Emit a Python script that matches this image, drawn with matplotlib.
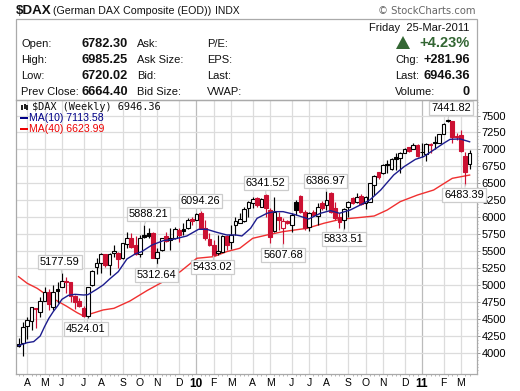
import matplotlib
matplotlib.use('Agg')
import matplotlib.pyplot as plt
from matplotlib.patches import Rectangle, Polygon

plt.rcParams['font.family'] = ['Liberation Sans', 'DejaVu Sans']

opens = [4135, 4149, 4404, 4483, 4674, 4615, 4777, 4909, 4689, 4943, 4983, 5071, 5051, 4850, 4772,
         4674, 4551, 5007, 5277, 5326, 5463, 5301, 5483, 5483, 5399, 5606, 5704, 5596, 5459, 5743,
         5767, 5767, 5400, 5522, 5733, 5670, 5694, 5817, 5826, 5841, 5973, 5964, 6071, 5841, 5679,
         5596, 5473, 5498, 5733, 5645, 5890, 5915, 5950, 6135, 6219, 6282, 6160, 6331, 6111, 5807,
         6013, 5841, 5944, 5890, 6233, 6310, 6086, 5866, 6086, 6027, 6209, 6184, 6356, 6135, 6013,
         5964, 6160, 6282, 6223, 6316, 6208, 6233, 6478, 6664, 6650, 6790, 6708, 6895, 6870, 6954,
         7032, 7003, 7066, 6968, 6929, 7081, 7105, 7101, 7228, 7429, 7419, 7199, 7213, 6905, 6782.30]
highs = [4223, 4468, 4532, 4689, 4674, 4836, 4983, 4943, 5007, 5056, 5177.59, 5130, 5056, 4860, 4811,
         4698, 4973, 5228, 5399, 5483, 5463, 5473, 5595, 5497, 5630, 5792, 5767, 5733, 5743, 5888.21,
         5850, 5792, 5547, 5704, 5792, 5841, 5856, 5841, 5924, 5988, 6013, 6071, 6094.26, 5964, 5768,
         5670, 5743, 5743, 5743, 5890, 6013, 6062, 6160, 6248, 6307, 6307, 6282, 6341.52, 6135, 6297,
         6086, 5988, 5964, 6062, 6258, 6325, 6111, 6086, 6111, 6209, 6248, 6386.97, 6370, 6233, 6062,
         6135, 6248, 6297, 6356, 6346, 6316, 6512, 6625, 6674, 6782, 6846, 6870, 6944, 6968, 7027,
         7042, 7091, 7076, 7091, 7091, 7091, 7199, 7228, 7385, 7441.82, 7424, 7248, 7287, 6958, 6985.25]
lows = [4090, 3963, 4208, 4345, 4370, 4532, 4767, 4640, 4640, 4747, 4983, 4885, 4762, 4649, 4679,
        4532, 4524.01, 4992, 5169, 5188, 5277, 5154, 5424, 5252, 5385, 5547, 5547, 5449, 5424, 5704,
        5704, 5400, 5312.64, 5508, 5635, 5523, 5679, 5645, 5743, 5826, 5890, 5964, 5841, 5670, 5581,
        5433.02, 5445, 5498, 5522, 5530, 5743, 5915, 5940, 6000, 6135, 6160, 6160, 6013, 5630, 5792,
        5817, 5607.68, 5905, 5792, 6037, 6062, 5817, 5807, 6022, 5890, 6111, 6111, 6062, 5964, 5840,
        5833.51, 6013, 6199, 6209, 6184, 6120, 6233, 6331, 6561, 6640, 6650, 6699, 6699, 6659, 6954,
        6968, 7003, 6895, 6895, 6836, 6944, 7003, 7101, 7228, 7409, 7101, 7140, 6968, 6483.39, 6720.02]
closes = [4115, 4385, 4492, 4679, 4649, 4767, 4909, 4728, 4909, 4924, 5071, 5056, 4850, 4762, 4698,
          4551, 4973, 5218, 5326, 5458, 5301, 5463, 5512, 5385, 5620, 5704, 5571, 5459, 5704, 5718,
          5733, 5400, 5488, 5694, 5655, 5704, 5826, 5743, 5807, 5964, 5954, 6047, 5841, 5694, 5596,
          5445, 5508, 5733, 5596, 5743, 5949, 5973, 6121, 6233, 6268, 6184, 6268, 6135, 5719, 6076,
          5964, 5949, 5924, 6037, 6111, 6086, 5841, 6071, 6037, 6160, 6135, 6258, 6086, 5988, 5939,
          6125, 6223, 6209, 6297, 6199, 6297, 6512, 6615, 6591, 6772, 6775, 6855, 6855, 6954, 7003,
          6983, 7066, 6909, 6958, 7076, 7071, 7097, 7228, 7375, 7419, 7189, 7179, 6978, 6664.40, 6946.36]

ma10_weeks = [0, 2, 3.5, 5, 6, 7, 8, 9, 10, 11.5, 13, 15, 16, 18, 19.5, 21, 23, 25, 26.9, 28.4, 30.8,
              33.4, 35.7, 38.8, 41.5, 43.4, 45.7, 48, 50, 51.5, 53.5, 55, 57.3, 59, 61, 63.5, 66.9,
              69.6, 71.9, 74, 76.5, 78.8, 81, 83.5, 86.5, 88.9, 91.5, 93.4, 95.7, 98, 99.5, 101.8, 104]
ma10 = [4115, 4159, 4174, 4257, 4394, 4517, 4615, 4698, 4796, 4855, 4870, 4860, 4865, 4943, 5007, 5095,
        5203, 5390, 5464, 5498, 5596, 5660, 5680, 5728, 5826, 5826, 5782, 5743, 5743, 5728, 5841, 5988,
        6062, 6086, 6086, 6047, 5978, 6062, 6101, 6062, 6111, 6184, 6258, 6404, 6625, 6748, 6855, 6895,
        6993, 7091, 7150, 7155, 7113.58]
ma40_weeks = [0, 2, 4.3, 6.5, 8.8, 11, 13.5, 15, 17.5, 19.5, 22, 25.7, 29.6, 33.4, 37.3, 41.1, 45, 48,
              51, 54, 57.3, 61, 66.5, 70.4, 74.2, 79, 82, 85, 88, 92, 95.7, 100, 104]
ma40 = [5130, 5032, 4958, 4860, 4777, 4698, 4600, 4551, 4600, 4640, 4664, 4772, 4924, 5057, 5204, 5400,
        5424, 5498, 5547, 5694, 5743, 5792, 5841, 5915, 5973, 6002, 6022, 6110, 6233, 6331, 6404, 6576,
        6623.99]

month_weeks = [2, 6, 10, 15, 19, 24, 28, 32, 37, 41, 45, 49, 54, 58, 63, 67, 71, 76, 80, 84, 89, 93, 98, 102]
month_labels = ['A', 'M', 'J', 'J', 'A', 'S', 'O', 'N', 'D', '10', 'F', 'M', 'A', 'M', 'J', 'J', 'A', 'S',
                'O', 'N', 'D', '11', 'F', 'M']
price_ticks = list(range(4000, 7501, 250))

# week, value, label offset in pixels
callouts = [(10, 5177.59, -2, 11), (16, 4524.01, -2, -11), (29, 5888.21, 4, 11), (32, 5312.64, -1, -11),
            (42, 6094.26, 0, 10), (45, 5433.02, -1, -11), (57, 6341.52, 0, 11), (61, 5607.68, 0, -11),
            (71, 6386.97, -1, 10), (75, 5833.51, 0, -10), (99, 7441.82, 3, 11), (103, 6483.39, -1, -10)]

W, H = 520, 391
fig = plt.figure(figsize=(W / 100, H / 100), dpi=100, facecolor='white')
ax = fig.add_axes([16 / W, 1 - 374 / H, (477 - 16) / W, (374 - 100) / H])
ax.set_xlim(-0.58, 105.7)
ax.set_ylim(3698, 7728)

RED = '#cc1133'
for i in range(len(opens)):
    prev = closes[i - 1] if i > 0 else closes[i]
    col = RED if closes[i] < prev else 'black'
    ax.vlines(i, lows[i], highs[i], color=col, lw=0.85, zorder=3)
    bottom = min(opens[i], closes[i])
    height = abs(closes[i] - opens[i])
    fill = col if closes[i] < opens[i] else 'white'
    ax.bar(i, height, 0.85, bottom=bottom, facecolor=fill, edgecolor=col, linewidth=0.8, zorder=4)

ax.plot(ma10_weeks, ma10, color='#1c1c8e', lw=1.0, zorder=5)
ax.plot(ma40_weeks, ma40, color='#f03030', lw=1.0, zorder=2)

ax.set_xticks(month_weeks)
ax.set_xticklabels(month_labels, fontsize=7.5)
for lab, txt in zip(ax.get_xticklabels(), month_labels):
    if txt in ('10', '11'):
        lab.set_fontweight('bold')
        lab.set_fontsize(8.5)
ax.set_xticks(range(0, 105), minor=True)
ax.yaxis.tick_right()
ax.set_yticks(price_ticks)
ax.set_yticklabels([str(p) for p in price_ticks], fontsize=8)
ax.set_yticks(range(3750, 7750, 50), minor=True)
ax.tick_params(axis='x', which='major', length=0, pad=3)
ax.tick_params(axis='x', which='minor', length=1.5, width=0.5, color='#999999', direction='out')
ax.tick_params(axis='y', which='major', length=2, width=0.6, color='#888888', pad=1.5)
ax.tick_params(axis='y', which='minor', length=1, width=0.5, color='#999999')
ax.grid(True, which='major', color='#dcdcdc', lw=0.9, zorder=0)
ax.set_axisbelow(True)
for g, txt in zip(ax.get_xgridlines(), month_labels):
    if txt in ('10', '11'):
        g.set_color('#bbbbbb')
for s in ax.spines.values():
    s.set_color('#aaaaaa')
    s.set_linewidth(0.9)

for week, val, dx, dy in callouts:
    ax.annotate(f'{val:.2f}', xy=(week, val), xytext=(dx, dy), textcoords='offset pixels',
                ha='center', va='center', fontsize=7.9, zorder=8,
                bbox=dict(boxstyle='square,pad=0.18', fc='white', ec='#cccccc', lw=0.9),
                arrowprops=dict(arrowstyle='-', color='#cccccc', lw=0.8, shrinkA=0, shrinkB=0))


def put(x, y, s, **kw):
    kw.setdefault('va', 'center')
    kw.setdefault('fontsize', 8)
    kw.setdefault('color', '#111111')
    fig.text(x / W, 1 - y / H, s, **kw)


# header box
fig.add_artist(Rectangle((16 / W, 1 - 100 / H), (477 - 16) / W, 81 / H, transform=fig.transFigure,
                         fill=False, ec='#aaaaaa', lw=0.9))
put(16, 11, '$DAX', fontweight='bold', fontsize=9.6)
put(53, 11, '(German DAX Composite (EOD))', fontsize=7.7)
put(215, 11, 'INDX', fontsize=7.4)
put(476, 11, '\u00a9 StockCharts.com', ha='right', fontsize=7.2, color='#666666', family='DejaVu Sans')

rows = [44, 60, 76, 92]
for y, a, v, b, c in zip(rows, ['Open:', 'High:', 'Low:', 'Prev Close:'],
                         ['6782.30', '6985.25', '6720.02', '6664.40'],
                         ['Ask:', 'Ask Size:', 'Bid:', 'Bid Size:'],
                         ['P/E:', 'EPS:', 'Last:', 'VWAP:']):
    put(21, y, a)
    put(81, y, v, fontweight='bold', fontsize=9.2)
    put(137, y, b)
    put(207, y, c)

put(469, 28, 'Friday  25-Mar-2011', ha='right')
fig.add_artist(Polygon([(396 / W, 1 - 49 / H), (410 / W, 1 - 49 / H), (403 / W, 1 - 36 / H)],
                       transform=fig.transFigure, fc='#336633', ec='none'))
put(470, 43, '+4.23%', ha='right', fontweight='bold', fontsize=10.5, color='#336633')
for y, a, v in zip(rows[1:], ['Chg:', 'Last:', 'Volume:'], ['+281.96', '6946.36', '0']):
    put(395, y, a)
    put(470, y, v, ha='right', fontweight='bold', fontsize=9.2)

# legend
put(32, 107, '$DAX (Weekly) 6946.36', family='DejaVu Sans Mono', fontsize=7.4)
for x, y0, h in [(21, 105, 5), (23.5, 104, 5), (26, 105, 5)]:
    fig.add_artist(Rectangle((x / W, 1 - (y0 + h) / H), 2 / W, h / H, transform=fig.transFigure,
                             fc='#222222', ec='none'))
for y, col, s in [(118, '#000088', 'MA(10) 7113.58'), (129, '#ee0000', 'MA(40) 6623.99')]:
    fig.add_artist(Rectangle((20 / W, 1 - (y + 1) / H), 8 / W, 2 / H, transform=fig.transFigure, fc=col, ec='none'))
    put(29, y, s, color=col, fontsize=7.6)

plt.savefig('out.png', dpi=100)
